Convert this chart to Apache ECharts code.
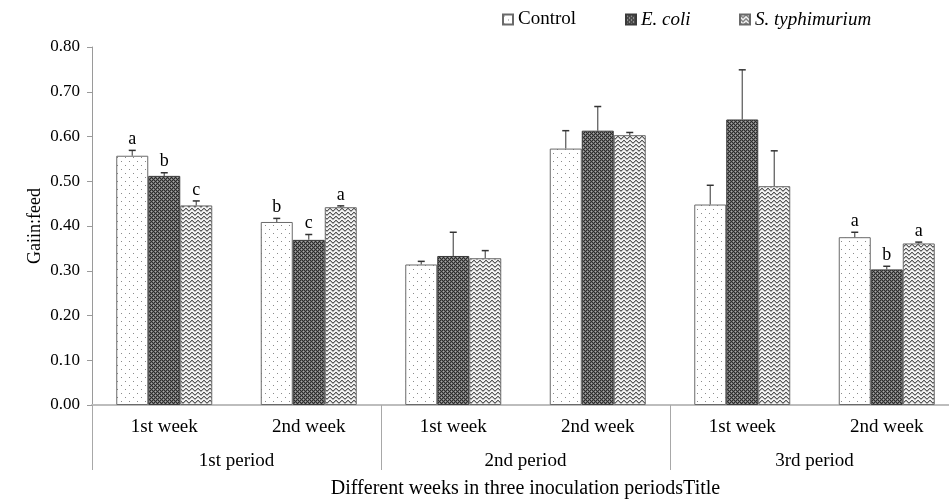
<!DOCTYPE html>
<html>
<head>
<meta charset="utf-8">
<script src="https://cdn.jsdelivr.net/npm/echarts@6/dist/echarts.min.js"></script>
<style>html,body{margin:0;padding:0;background:#fff;}#c{width:949px;height:500px;}</style>
</head>
<body>
<div id="c"></div>
<script>
// ---- data ----
const weeks = ['1st week','2nd week','1st week','2nd week','1st week','2nd week'];
const periods = ['1st period','2nd period','3rd period'];
const seriesNames = ['Control','E. coli','S. typhimurium'];
const controlVals = [0.557, 0.409, 0.314, 0.573, 0.448, 0.375];
const ecoliVals   = [0.512, 0.369, 0.333, 0.613, 0.638, 0.303];
const stypVals    = [0.446, 0.442, 0.328, 0.603, 0.489, 0.361];
const controlErr  = [0.012, 0.008, 0.007, 0.040, 0.043, 0.011];
const ecoliErr    = [0.007, 0.012, 0.053, 0.054, 0.111, 0.007];
const stypErr     = [0.010, 0.003, 0.017, 0.006, 0.079, 0.003];
const controlLet  = ['a','b','','','','a'];
const ecoliLet    = ['b','c','','','','b'];
const stypLet     = ['c','a','','','','a'];
const yTicks = [0,0.1,0.2,0.3,0.4,0.5,0.6,0.7,0.8];

// ---- patterns ----
function mk(w,h,draw){const c=document.createElement('canvas');c.width=w;c.height=h;const g=c.getContext('2d');draw(g);return {image:c,repeat:'repeat'};}
const patCtrl = mk(8,8,g=>{g.fillStyle='#ffffff';g.fillRect(0,0,8,8);g.fillStyle='#8a8a8a';g.fillRect(1,1,1,1);g.fillRect(5,5,1,1);});
const patEcoli = mk(4,4,g=>{
  for(let y=0;y<4;y++)for(let x=0;x<4;x++){g.fillStyle=((x+y)%2===0)?'#2c2c2c':'#6e6e6e';g.fillRect(x,y,1,1);}
  g.fillStyle='#a8a8a8';g.fillRect(1,1,1,1);g.fillRect(3,3,1,1);
});
const patStyp = mk(6,4,g=>{g.fillStyle='#f2f2f2';g.fillRect(0,0,6,4);g.fillStyle='#5a5a5a';
  const ys=[0,1,2,2,1,0];for(let x=0;x<6;x++){g.fillRect(x,ys[x],1,1);}
  g.fillStyle='#b0b0b0';for(let x=0;x<6;x++){g.fillRect(x,(ys[x]+1)%4,1,1);}
});
const pats=[patCtrl,patEcoli,patStyp];
const borders=['#6a6a6a','#3a3a3a','#6a6a6a'];
const vals=[controlVals,ecoliVals,stypVals];
const errs=[controlErr,ecoliErr,stypErr];
const lets=[controlLet,ecoliLet,stypLet];

const FONT='Liberation Serif';
const BARW=32;

const series=[];
for(let s=0;s<3;s++){
  series.push({name:seriesNames[s],type:'bar',xAxisIndex:0,yAxisIndex:0,data:vals[s],
    barWidth:BARW,barGap:'0%',
    itemStyle:{color:pats[s],borderColor:borders[s],borderWidth:1},
    emphasis:{disabled:true},z:2});
}
for(let s=0;s<3;s++){
  const data=vals[s].map((v,i)=>[i,v,v+errs[s][i],lets[s][i]]);
  series.push({type:'custom',xAxisIndex:0,yAxisIndex:0,data:data,z:5,silent:true,
    renderItem:function(params,api){
      const i=api.value(0);
      const p0=api.coord([i,api.value(1)]);
      const p1=api.coord([i,api.value(2)]);
      const x=p0[0]+(s-1)*BARW;
      const letter=data[params.dataIndex][3];
      const ch=[
        {type:'line',shape:{x1:x,y1:p0[1],x2:x,y2:p1[1]},style:{stroke:'#555',lineWidth:1.2}},
        {type:'line',shape:{x1:x-3.5,y1:p1[1],x2:x+3.5,y2:p1[1]},style:{stroke:'#333',lineWidth:1.5}}
      ];
      if(letter){ch.push({type:'text',style:{text:letter,x:x,y:p1[1]-2,align:'center',verticalAlign:'bottom',font:'18px "Liberation Serif"',fill:'#000'}});}
      return {type:'group',children:ch};
    }});
}

const chart=echarts.init(document.getElementById('c'),null,{renderer:'canvas'});
const legendCommon={top:5,itemWidth:10,itemHeight:10,icon:'rect',
  textStyle:{fontFamily:FONT,fontSize:19,color:'#000',rich:{i:{fontFamily:FONT,fontSize:19,fontStyle:'italic',color:'#000'}}},
  formatter:n=>n==='Control'?n:'{i|'+n+'}',selectedMode:false};
chart.setOption({
  animation:false,
  backgroundColor:'#fff',
  legend:[
    Object.assign({left:497,data:[seriesNames[0]]},legendCommon),
    Object.assign({left:620,data:[seriesNames[1]]},legendCommon),
    Object.assign({left:734,data:[seriesNames[2]]},legendCommon)
  ],
  grid:{left:92,top:47,width:867,height:358,containLabel:false,outerBoundsMode:'none'},
  xAxis:[
    {type:'category',data:weeks,position:'bottom',
      axisLine:{show:true,lineStyle:{color:'#bdbdbd',width:2}},
      axisTick:{show:false},
      axisLabel:{interval:0,margin:13,fontFamily:FONT,fontSize:19,color:'#000'}},
    {type:'category',data:periods,position:'bottom',
      axisLine:{show:false},
      axisTick:{show:true,interval:0,length:65,lineStyle:{color:'#a8a8a8',width:1}},
      axisLabel:{interval:0,margin:47,fontFamily:FONT,fontSize:19,color:'#000'},
      name:'Different weeks in three inoculation periodsTitle',nameLocation:'middle',nameGap:74,
      nameMoveOverlap:false,
      nameTextStyle:{fontFamily:FONT,fontSize:20,color:'#000'}}
  ],
  yAxis:{type:'value',min:yTicks[0],max:yTicks[yTicks.length-1],interval:0.1,
    axisLine:{show:true,lineStyle:{color:'#9a9a9a',width:1}},
    axisTick:{show:true,length:5,lineStyle:{color:'#9a9a9a'}},
    splitLine:{show:false},
    axisLabel:{margin:12,fontFamily:FONT,fontSize:17,color:'#000',formatter:v=>v.toFixed(2)},
    name:'Gaiin:feed',nameLocation:'middle',nameGap:48,nameRotate:90,nameMoveOverlap:false,
    nameTextStyle:{fontFamily:FONT,fontSize:18,color:'#000'}},
  series:series
});
</script>
</body>
</html>
